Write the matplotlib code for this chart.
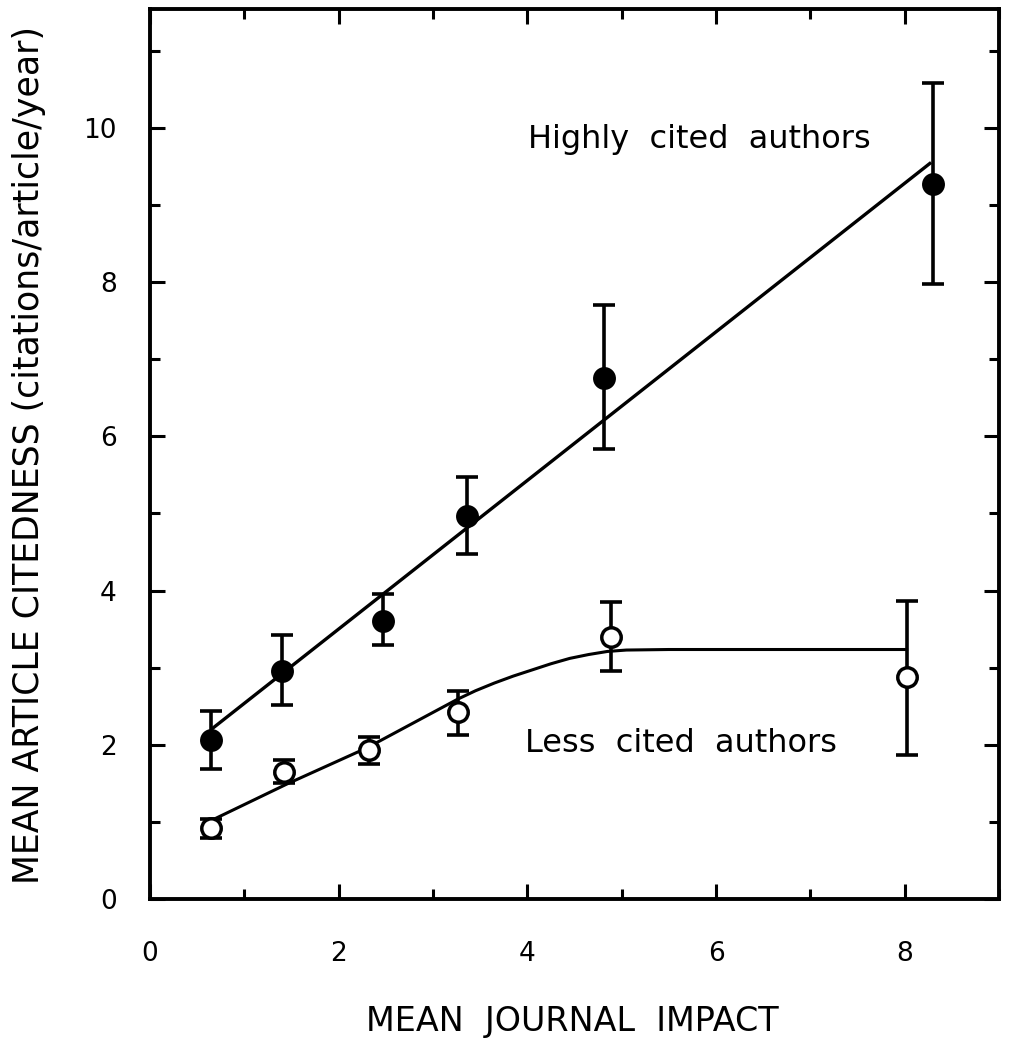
import matplotlib
matplotlib.use("Agg")
import matplotlib.pyplot as plt
from matplotlib.ticker import MultipleLocator

plt.rcParams['font.family'] = ['DejaVu Sans']

# Highly cited authors (filled circles)
high_x = [0.65, 1.40, 2.47, 3.36, 4.81, 8.30]
high_y = [2.06, 2.96, 3.61, 4.97, 6.76, 9.27]
high_upper = [2.44, 3.42, 3.95, 5.47, 7.70, 10.58]
high_lower = [1.68, 2.52, 3.29, 4.47, 5.84, 7.98]
high_fit_x = [0.65, 8.28]
high_fit_y = [2.20, 9.55]

# Less cited authors (open circles)
less_x = [0.65, 1.42, 2.32, 3.26, 4.89, 8.02]
less_y = [0.92, 1.65, 1.93, 2.42, 3.40, 2.88]
less_upper = [1.04, 1.80, 2.10, 2.70, 3.85, 3.87]
less_lower = [0.79, 1.50, 1.75, 2.12, 2.95, 1.87]
less_fit_x = [0.67, 1.45, 2.30, 3.26, 3.45, 3.65, 3.85, 4.05, 4.25, 4.45, 4.65, 4.85, 5.05, 5.50, 8.02]
less_fit_y = [1.03, 1.49, 1.96, 2.59, 2.70, 2.80, 2.89, 2.97, 3.05, 3.12, 3.17, 3.21, 3.228, 3.235, 3.235]

x_ticks = [0, 2, 4, 6, 8]
y_ticks = [0, 2, 4, 6, 8, 10]

W, H = 1011, 1038
fig = plt.figure(figsize=(W / 100, H / 100), dpi=100)
ax = fig.add_axes([150 / W, (H - 899) / H, 849 / W, 890 / H])

ax.plot(high_fit_x, high_fit_y, color='black', lw=2.4, zorder=2, solid_capstyle='butt')
ax.plot(less_fit_x, less_fit_y, color='black', lw=2.2, zorder=2, solid_joinstyle='round')

def errs(y, lo, hi):
    return [[v - l for v, l in zip(y, lo)], [h - v for v, h in zip(y, hi)]]

ax.errorbar(high_x, high_y, yerr=errs(high_y, high_lower, high_upper), fmt='none',
            ecolor='black', elinewidth=2.6, capsize=8, capthick=2.6, zorder=3)
ax.errorbar(less_x, less_y, yerr=errs(less_y, less_lower, less_upper), fmt='none',
            ecolor='black', elinewidth=2.6, capsize=8, capthick=2.6, zorder=3)

ax.plot(high_x, high_y, 'o', ms=16.5, mfc='black', mec='black', mew=0, zorder=4)
ax.plot(less_x, less_y, 'o', ms=14, mfc='white', mec='black', mew=2.5, zorder=4)

ax.text(4.01, 9.74, "Highly  cited  authors", fontsize=23, ha='left', va='baseline')
ax.text(3.975, 1.90, "Less  cited  authors", fontsize=23, ha='left', va='baseline')

ax.set_xlim(0, 9)
ax.set_ylim(0, 11.54)
ax.set_xticks(x_ticks)
ax.set_yticks(y_ticks)
ax.xaxis.set_minor_locator(MultipleLocator(1))
ax.yaxis.set_minor_locator(MultipleLocator(1))
ax.tick_params(which='both', direction='in', top=True, right=True, width=2.2, color='black')
ax.tick_params(which='major', length=11)
ax.tick_params(which='minor', length=7)
ax.tick_params(axis='x', which='major', labelsize=19, pad=30)
ax.tick_params(axis='y', which='major', labelsize=19, pad=24)
for s in ax.spines.values():
    s.set_linewidth(2.8)

fig.text(572 / W, 1 - 1022 / H, "MEAN  JOURNAL  IMPACT", fontsize=24, ha='center', va='center')
fig.text(29 / W, 1 - 455 / H, "MEAN ARTICLE CITEDNESS (citations/article/year)", fontsize=25,
         rotation=90, ha='center', va='center')

fig.savefig("out.png", dpi=100)
